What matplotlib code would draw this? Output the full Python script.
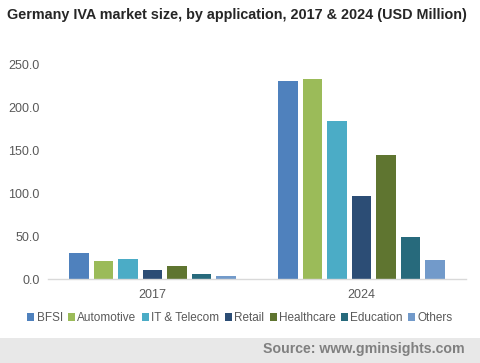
import matplotlib.pyplot as plt
import numpy as np
from matplotlib.patches import Rectangle

plt.rcParams['font.family'] = ['Liberation Sans', 'DejaVu Sans']

years = ['2017', '2024']
segments = ['BFSI', 'Automotive', 'IT & Telecom', 'Retail', 'Healthcare', 'Education', 'Others']
values_2017 = [30.7, 21.4, 23.7, 10.9, 15.5, 6.2, 3.9]
values_2024 = [231.3, 233.6, 184.6, 97.0, 144.9, 49.0, 22.2]
colors = ['#4f81bd', '#9bbb59', '#4bacc6', '#2c4d75', '#5f7530', '#276a7c', '#729aca']
yticks = [0, 50, 100, 150, 200, 250]

fig = plt.figure(figsize=(4.8, 3.63), dpi=100)
ax = fig.add_axes([0.1, 0.2314, 0.871, 0.5896])

x = np.arange(len(years))
pitch = 0.117
width = 0.093
for i, seg in enumerate(segments):
    vals = [values_2017[i], values_2024[i]]
    ax.bar(x + (i - 3) * pitch, vals, width, color=colors[i], label=seg, zorder=2)

ax.set_xlim(-0.5, 1.5)
ax.set_ylim(0, 250)
ax.set_yticks(yticks)
ax.set_yticklabels(['%.1f' % v for v in yticks])
ax.set_xticks(x)
ax.set_xticklabels(years)
ax.tick_params(axis='both', length=0, labelsize=9, colors='#595959')
ax.tick_params(axis='x', pad=7)
ax.tick_params(axis='y', pad=6)
for s in ['top', 'right', 'left']:
    ax.spines[s].set_visible(False)
ax.spines['bottom'].set_color('#d9d9d9')
ax.spines['bottom'].set_linewidth(1)

leg = fig.legend(loc='center', bbox_to_anchor=(0.5, 0.124), ncol=7, frameon=False,
                 fontsize=8.5, handlelength=0.6, handleheight=0.6, handletextpad=0.2,
                 columnspacing=0.45, labelcolor='#595959')

fig.text(0.015, 0.958, 'Germany IVA market size, by application, 2017 & 2024 (USD Million)',
         fontsize=10.35, fontweight='bold', color='#262626', va='center', ha='left')

fig.patches.append(Rectangle((0, 0), 1, 0.069, transform=fig.transFigure,
                             facecolor='#e8e8e8', edgecolor='none', zorder=0))
fig.text(0.969, 0.038, 'Source: www.gminsights.com', fontsize=10.2, fontweight='bold',
         color='#808080', ha='right', va='center')

fig.savefig('out.png', dpi=100)
